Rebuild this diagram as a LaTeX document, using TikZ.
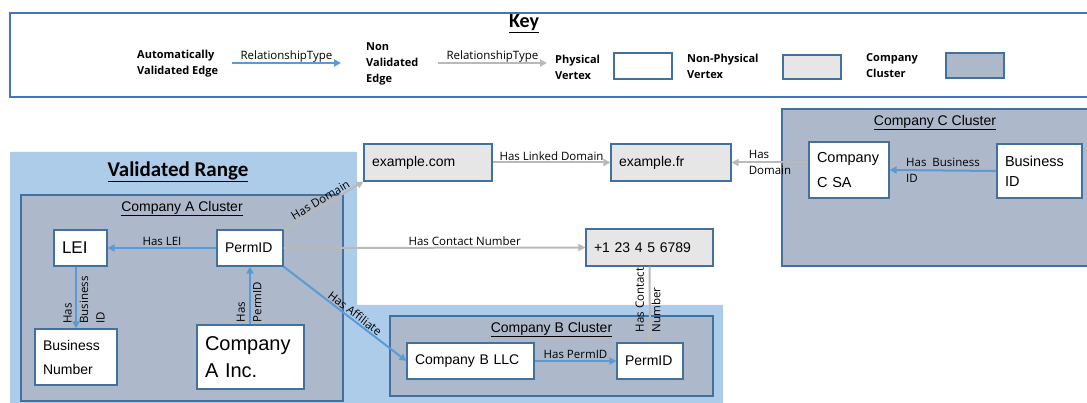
\documentclass[tikz,border=0pt]{standalone}
\usepackage{fontspec}
\setmainfont{Liberation Sans}
\newfontfamily\edgefont{Open Sans}
\newfontfamily\headingfont{Carlito}
\usepackage{tikz}
\usetikzlibrary{positioning,arrows.meta}
\definecolor{rangeblue}{RGB}{172,204,234}
\definecolor{clusterfill}{RGB}{173,185,202}
\definecolor{boxline}{RGB}{65,113,156}
\definecolor{autoblue}{RGB}{91,155,213}
\definecolor{nonvalgray}{RGB}{185,185,185}
\definecolor{npfill}{RGB}{231,230,230}
\definecolor{keyblue}{RGB}{68,114,196}

\begin{document}
\begin{tikzpicture}[x=1pt,y=-1pt,>={Triangle[length=7pt,width=7pt]},
 vertex/.style={draw=boxline,line width=1.1pt,rectangle,fill=white,align=left,inner xsep=8pt,inner ysep=0pt,font=\fontsize{14}{24}\selectfont},
 nonphys/.style={vertex,fill=npfill},
 cluster/.style={draw=boxline,line width=1.1pt,fill=clusterfill,rectangle,inner sep=0pt},
 cluster_title/.style={font=\fontsize{14}{16}\selectfont},
 auto_edge/.style={draw=autoblue,line width=2pt,->},
 non_edge/.style={draw=nonvalgray,line width=2pt,->},
 rel/.style={font=\edgefont\fontsize{11.5}{16.5}\selectfont,inner sep=1pt},
 keytext/.style={font=\edgefont\bfseries\fontsize{11}{16}\selectfont,align=left,anchor=west,inner sep=0pt}]
\useasboundingbox (0,0) rectangle (1087,403);
\clip (0,0) rectangle (1087,403);

% key
\node[draw=keyblue,line width=1.2pt,minimum width=1082pt,minimum height=84pt,inner sep=0pt] (key_box) at (551,55) {};
\node[font=\headingfont\bfseries\fontsize{20}{24}\selectfont] (key_title) at (524,24) {\underline{Key}};
\node[keytext] (auto_text) at (137,64) {Automatically\\Validated Edge};
\coordinate (auto_start) at (232,63);
\coordinate (auto_end) at (341,63);
\node[keytext] (non_text) at (366,63.5) {Non\\Validated\\Edge};
\coordinate (non_start) at (438,63);
\coordinate (non_end) at (547,63);
\node[keytext] (phys_text) at (555,67) {Physical\\Vertex};
\node[vertex,minimum width=58pt,minimum height=26pt] (phys_box) at (643,66) {};
\node[keytext] (nonphys_text) at (687,66) {Non-Physical\\Vertex};
\node[nonphys,minimum width=58pt,minimum height=24pt] (nonphys_box) at (812,67) {};
\node[keytext] (cluster_text) at (866,66) {Company\\Cluster};
\node[cluster,minimum width=58pt,minimum height=25pt] (cluster_box) at (975,65.5) {};

% validated range
\fill[rangeblue] (10,152) -- (357,152) -- (357,305) -- (723,305) -- (723,403) -- (10,403) -- cycle;
\node[font=\headingfont\bfseries\fontsize{21}{24}\selectfont] (range_title) at (178,172) {\underline{Validated Range}};

% clusters
\node[cluster,minimum width=322pt,minimum height=206pt] (cluster_a) at (182,298) {};
\node[cluster_title,below=3pt of cluster_a.north] {\underline{Company A Cluster}};
\node[cluster,minimum width=323pt,minimum height=80pt] (cluster_b) at (551.5,356) {};
\node[cluster_title,below=3pt of cluster_b.north] {\underline{Company B Cluster}};
\node[cluster,minimum width=306pt,minimum height=157pt] (cluster_c) at (935,187.5) {};
\node[cluster_title,below=3pt of cluster_c.north] {\underline{Company C Cluster}};

% vertices
\node[vertex,text width=37pt,minimum height=36pt,font=\fontsize{17}{20}\selectfont] (lei) at (80.5,248) {LEI};
\node[vertex,text width=50pt,minimum height=36pt] (perm_a) at (250,248) {PermID};
\node[vertex,text width=66pt,minimum height=56pt] (business_number) at (76,357) {Business\\Number};
\node[vertex,text width=91pt,minimum height=64pt,font=\fontsize{20}{27}\selectfont] (company_a) at (250.5,357) {Company\\A Inc.};
\node[nonphys,text width=112pt,minimum height=37pt] (example_com) at (428,162.5) {example.com};
\node[nonphys,text width=104pt,minimum height=37pt] (example_fr) at (671,162.5) {example.fr};
\node[nonphys,text width=111pt,minimum height=37pt] (contact) at (649.5,247.5) {+1 23 4 5 6789};
\node[vertex,text width=111pt,minimum height=36pt] (company_b) at (470.5,361) {Company B LLC};
\node[vertex,text width=50pt,minimum height=36pt] (perm_b) at (650,361) {PermID};
\node[vertex,text width=64pt,minimum height=56pt,font=\fontsize{14.5}{25}\selectfont] (company_c) at (849,170) {Company\\C SA};
\node[vertex,text width=69pt,minimum height=54pt,font=\fontsize{14.5}{20}\selectfont] (business_id) at (1039.5,171) {Business\\ID};

% arrows
\draw[auto_edge] (auto_start) -- node[rel,above=-1pt] {RelationshipType} (auto_end);
\draw[non_edge] (non_start) -- node[rel,above=-1pt] {RelationshipType} (non_end);
\draw[auto_edge] (perm_a) -- node[rel,above] {Has LEI} (lei);
\draw[auto_edge] (business_number.north |- lei.south) -- (business_number.north);
\draw[auto_edge] (perm_a.south |- company_a.north) -- (perm_a.south);
\draw[non_edge] (perm_a.north east) -- node[rel,sloped,above] {Has Domain} (example_com.south west);
\draw[non_edge] (perm_a.east) -- node[rel,above,pos=0.6] {Has Contact Number} (contact.west);
\draw[auto_edge] (perm_a.south east) -- node[rel,sloped,above,pos=0.55] {Has Affiliate} (company_b.west);
\draw[non_edge] (example_com.east) -- node[rel,above] {Has Linked Domain} (example_fr.west);
\draw[non_edge] (contact.south) -- (perm_b.north);
\draw[auto_edge] (company_b.east) -- node[rel,above] {Has PermID} (perm_b.west);
\draw[non_edge] (company_c.west |- example_fr.east) -- node[rel,align=left] {Has\\Domain} (example_fr.east);
\draw[auto_edge] (business_id.west) -- node[rel,align=left] {Has\ \ Business\\ID} (company_c.east);
% labels standing on the vertical arrows
\node[rel,rotate=90,align=left] (lbl_business) at (84,300) {Has\\Business\\ID};
\node[rel,rotate=90,align=left] (lbl_permid) at (249,302) {Has\\PermID};
\node[rel,rotate=90,align=left] (lbl_contact) at (648,300) {Has Contact\\Number};
\end{tikzpicture}
\end{document}
